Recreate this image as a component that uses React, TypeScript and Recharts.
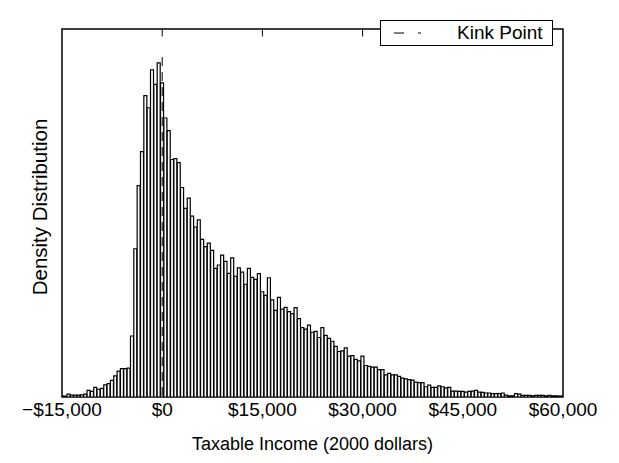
import { Bar, BarChart, Legend, ReferenceArea, ReferenceLine, XAxis, YAxis } from "recharts";

// Histogram bins are $500 wide and centred on multiples of $500
const BIN_START = -15000;
const BIN_WIDTH = 500;

// Density per bin (arbitrary units), bins from -$15,000 up to -$500
const densityBelowKink = [
	1, 1, 3, 2, 2, 2, 2.3, 3, 7, 6, 10.3, 8.3, 9.3, 13, 14.3, 17.7, 22.7, 27.7, 30.3, 30.3,
	31, 65.3, 158.7, 226.3, 262.7, 322.7, 309.7, 350.3, 334.7, 357.7,
];

// Density per bin, bins from $0 up to $60,000
const densityAboveKink = [
	336.3, 298.7, 285.3, 254.3, 255.3, 251, 224.3, 202, 213, 193.7, 182,
	189.7, 168.7, 161, 164.7, 157, 137.7, 141.3, 152, 145.3, 132.3, 149, 129.3, 138.3, 133.7,
	120.7, 137.7, 128, 126, 132, 112.7, 108.7, 127.7, 104, 92.7, 106.7, 94, 96, 91.3, 89.3,
	95.7, 84, 74.3, 72.7, 77, 69.3, 70.3, 63.7, 74.3, 66, 62.7, 59.7, 54.3, 48.7, 49.3, 52.7,
	43.7, 44.3, 40.3, 38.7, 43.7, 33.7, 32.7, 32, 32, 29.3, 29.3, 23.7, 25.3, 23.7, 23.7, 22,
	20.3, 19.3, 18.7, 18, 16, 15.3, 15.3, 11, 12.7, 10.3, 10.3, 12, 11, 9.7, 10.3, 6.3, 6.3,
	6, 6, 5.3, 6, 6.3, 7, 5.3, 5, 4.3, 4.3, 3.7, 3.7, 3.7, 4.3, 2, 1.3, 1.3, 3.7, 3, 1.7,
	1.7, 1.7, 1.3, 1.7, 1.7, 1.7, 1.3, 1.7, 1.3, 1.3, 1, 1,
];

const xTicks = [-15000, 0, 15000, 30000, 45000, 60000];
const innerTicks = [0, 15000, 30000, 45000];

const KINK = 0;
const KINK_TOP = 364;
const Y_MAX = 394;

const data = [...densityBelowKink, ...densityAboveKink].map((density, i) => ({
	income: BIN_START + i * BIN_WIDTH,
	density,
}));

const FONT = "'Liberation Sans', Arial, Helvetica, sans-serif";

function formatDollars(v: number) {
	const abs = Math.abs(v).toLocaleString("en-US");
	return v < 0 ? `\u2212$${abs}` : `$${abs}`;
}

function KinkLegend() {
	return (
		<div
			style={{
				width: 171,
				height: 24,
				border: "1px solid #000",
				background: "#fff",
				display: "flex",
				alignItems: "center",
				fontFamily: FONT,
				fontSize: 19,
				color: "#000",
			}}
		>
			<svg width={76} height={24}>
				<line x1={13} y1={12} x2={41} y2={12} stroke="#000" strokeWidth={1} strokeDasharray="10 14 3" />
			</svg>
			<span>Kink Point</span>
		</div>
	);
}

export default function App() {
	return (
		<div style={{ position: "absolute", left: 0, top: 0, background: "#fff", fontFamily: FONT }}>
			<BarChart
				width={619}
				height={463}
				data={data}
				margin={{ top: 3, right: 56, bottom: 0, left: 18 }}
				barCategoryGap={0}
				barGap={0}
			>
				<XAxis
					dataKey="income"
					type="number"
					domain={[-15000, 60000]}
					ticks={xTicks}
					allowDataOverflow
					tickFormatter={formatDollars}
					tick={{ fontSize: 19, fill: "#000", fontFamily: FONT }}
					tickLine={false}
					tickMargin={0}
					axisLine={false}
					height={66}
					label={{
						value: "Taxable Income (2000 dollars)",
						position: "insideBottom",
						offset: 13,
						fontSize: 18,
						fill: "#000",
						fontFamily: FONT,
					}}
				/>
				<YAxis
					type="number"
					domain={[0, Y_MAX]}
					allowDataOverflow
					width={44}
					tick={false}
					tickLine={false}
					axisLine={false}
					label={{
						value: "Density Distribution",
						angle: -90,
						position: "center",
						dy: -6,
						fontSize: 20.5,
						fill: "#000",
						fontFamily: FONT,
					}}
				/>
				<Legend
					verticalAlign="top"
					align="left"
					wrapperStyle={{ position: "absolute", left: 380, top: 20, width: "auto" }}
					content={() => <KinkLegend />}
				/>

				<Bar dataKey="density" fill="#fff" stroke="#000" strokeWidth={1.2} isAnimationActive={false} />

				{/* dashed kink marker at zero taxable income */}
				<ReferenceLine
					segment={[
						{ x: KINK, y: KINK_TOP },
						{ x: KINK, y: 0 },
					]}
					stroke="#000"
					strokeWidth={1}
					strokeDasharray="9 6"
				/>

				{/* inward tick marks along the top edge */}
				{innerTicks.map((t) => (
					<ReferenceLine
						key={t}
						segment={[
							{ x: t, y: Y_MAX },
							{ x: t, y: Y_MAX - 8 },
						]}
						stroke="#000"
						strokeWidth={1}
					/>
				))}

				<ReferenceArea
					x1={-15000}
					x2={60000}
					y1={0}
					y2={Y_MAX}
					fill="none"
					fillOpacity={0}
					stroke="#000"
					strokeWidth={1.5}
				/>
			</BarChart>
		</div>
	);
}
